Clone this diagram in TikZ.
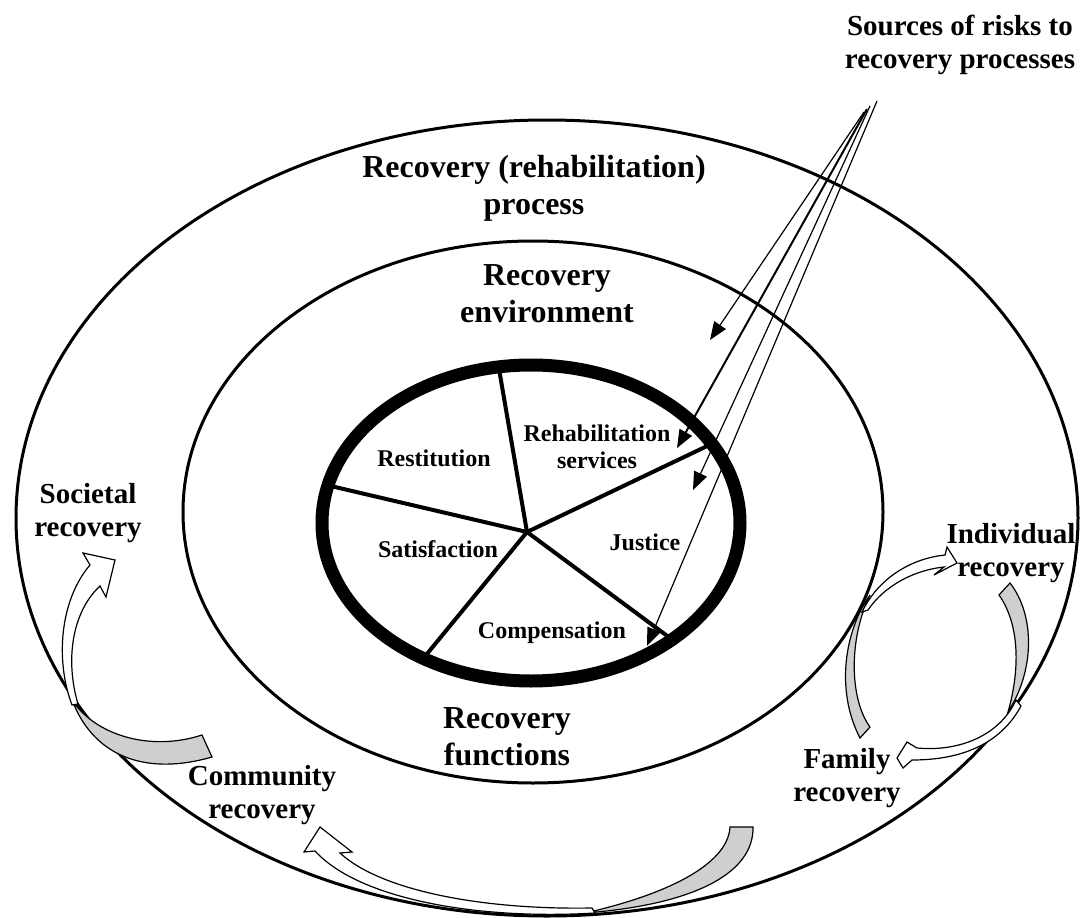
\documentclass[tikz,border=0pt]{standalone}
\usepackage{fontspec}
\setmainfont{Liberation Serif}
\usetikzlibrary{arrows.meta}

\begin{document}
\begin{tikzpicture}[x=1pt, y=-1pt,
    bigtxt/.style={font=\bfseries\fontsize{32}{37}\selectfont, align=center},
    sidetxt/.style={font=\bfseries\fontsize{29}{33}\selectfont, align=center},
    pietxt/.style={font=\bfseries\fontsize{24}{27}\selectfont, align=center},
    riskline/.style={line width=1.2pt, -{Triangle[length=18pt,width=14pt]}},
    backband/.style={draw, line width=1.2pt, fill=black!19},
    frontband/.style={draw, line width=1.2pt, fill=white}]
    \useasboundingbox (0,0) rectangle (1080,918);
    % Process and environment ellipses
    \draw[line width=3pt] (547,518) ellipse [x radius=531, y radius=398];
    \draw[line width=3pt] (533,512) ellipse [x radius=350, y radius=271];
    % Recovery functions pie
    \coordinate (hub) at (527,532);
    \begin{scope}
      \clip (531,523) ellipse [x radius=209, y radius=158];
      \foreach \dx/\dy in {-29/-169, -192/-45, -105/128, 143/106, 176/-84}
        \draw[line width=4pt] (hub) -- ++(2*\dx,2*\dy);
    \end{scope}
    \draw[line width=13pt] (531,523) ellipse [x radius=209, y radius=158];
    % Risk arrows
    \coordinate (s1) at (864,112); \coordinate (t1) at (710,340);
    \coordinate (s2) at (867,109); \coordinate (t2) at (677,448);
    \coordinate (s3) at (870,106); \coordinate (t3) at (693,490);
    \coordinate (s4) at (877,101); \coordinate (t4) at (647,646);
    \draw[riskline] (s1) -- (t1);
    \draw[riskline, line width=2pt] (s2) -- (t2);
    \draw[riskline] (s3) -- (t3);
    \draw[riskline] (s4) -- (t4);
    % Community -> societal
    \draw[backband] (202,735) -- (212,757) .. controls (150,775) and (95,760) .. (72,700)
      .. controls (95,735) and (150,752) .. cycle;
    \draw[frontband] (72,705) .. controls (55,660) and (60,600) .. (90,565) -- (83,553)
      -- (115,560) -- (106,597) -- (100,586) .. controls (72,612) and (65,660) .. (78,704) -- cycle;
    % Family -> community
    \draw[backband] (730,827) -- (753,827) .. controls (754,875) and (690,905) .. (585,913)
      .. controls (665,895) and (728,865) .. cycle;
    \draw[frontband] (595,913) .. controls (480,920) and (360,900) .. (315,851) -- (304,852)
      -- (320,827) -- (352,852) -- (340,853) .. controls (380,890) and (480,910) .. (592,908) -- cycle;
    % Family -> individual
    \draw[backband] (860,738) -- (870,727) .. controls (850,700) and (848,640) .. (870,595)
      .. controls (845,630) and (835,690) .. cycle;
    \draw[frontband] (862,612) .. controls (880,575) and (915,558) .. (945,555) -- (947,547)
      -- (957,563) -- (934,575) -- (944,567) .. controls (915,570) and (885,585) .. (868,610) -- cycle;
    % Individual -> family
    \draw[backband] (999,595) -- (1010,583) .. controls (1035,615) and (1035,670) .. (1008,712)
      .. controls (1020,670) and (1020,625) .. cycle;
    \draw[frontband] (1016,700) .. controls (1000,735) and (960,752) .. (917,748) -- (907,742)
      -- (897,758) -- (903,768) -- (912,760) .. controls (960,760) and (1000,745) .. (1021,706) -- cycle;
    % Labels
    \node[bigtxt] (process) at (534,188) {Recovery (rehabilitation)\\process};
    \node[bigtxt] (environment) at (547,294) {Recovery\\environment};
    \node[bigtxt] (functions) at (507,737) {Recovery\\functions};
    \node[sidetxt] (risks) at (960,45) {Sources of risks to\\recovery processes};
    \node[sidetxt] (societal) at (88,513) {Societal\\recovery};
    \node[sidetxt] (individual) at (1011,553) {Individual\\recovery};
    \node[sidetxt] (family) at (847,778) {Family\\recovery};
    \node[sidetxt] (community) at (262,795) {Community\\recovery};
    \node[pietxt] (restitution) at (434,458) {Restitution};
    \node[pietxt] (rehab) at (597,447) {Rehabilitation\\services};
    \node[pietxt] (satisfaction) at (438,549) {Satisfaction};
    \node[pietxt] (justice) at (645,542) {Justice};
    \node[pietxt] (compensation) at (552,633) {Compensation};
\end{tikzpicture}
\end{document}
